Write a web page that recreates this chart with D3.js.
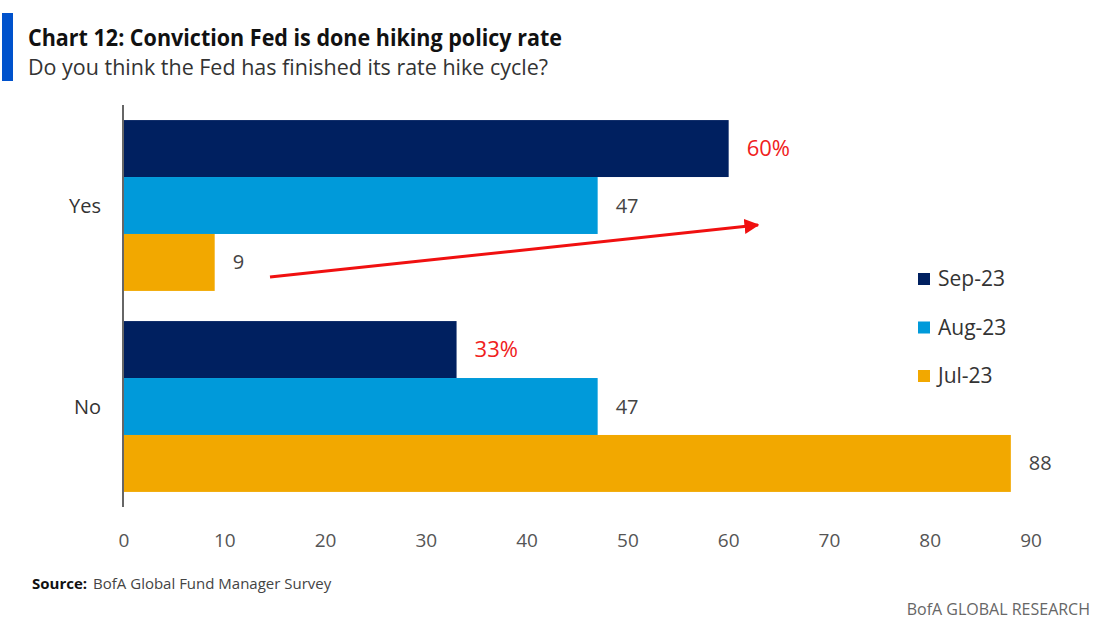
<!DOCTYPE html>
<html>
<head>
<meta charset="utf-8">
<script src="https://cdn.jsdelivr.net/npm/d3@7"></script>
<style>
  body { margin: 0; background: #fff; }
  svg { display: block; font-family: "Open Sans", "Noto Sans", sans-serif; }
</style>
</head>
<body>
<svg id="chart" width="1100" height="629"></svg>
<script>
// data
const categories = ["Yes", "No"];
const seriesNames = ["Sep-23", "Aug-23", "Jul-23"];
const sep23 = [60, 33];
const aug23 = [47, 47];
const jul23 = [9, 88];
const xTicks = [0, 10, 20, 30, 40, 50, 60, 70, 80, 90];

const colors = { "Sep-23": "#002060", "Aug-23": "#009ADA", "Jul-23": "#F2A800" };

const seriesValues = { "Sep-23": sep23, "Aug-23": aug23, "Jul-23": jul23 };
const rows = [];
categories.forEach((c, i) => {
  seriesNames.forEach(s => rows.push({ cat: c, series: s, value: seriesValues[s][i] }));
});

const svg = d3.select("#chart");

const x = d3.scaleLinear().domain([0, 90]).range([124, 1031]);
const y = d3.scaleBand().domain(categories).range([105, 507])
  .paddingInner(0.15).paddingOuter(0.075);
const ySub = d3.scaleBand().domain(seriesNames).range([0, y.bandwidth()]);

/* title block */
svg.append("rect").attr("x", 2).attr("y", 13).attr("width", 11).attr("height", 68).attr("fill", "#0052CC");
svg.append("text").attr("x", 28).attr("y", 46)
  .attr("font-size", 23).attr("font-weight", 700).attr("fill", "#111")
  .attr("textLength", 534).attr("lengthAdjust", "spacingAndGlyphs")
  .text("Chart 12: Conviction Fed is done hiking policy rate");
svg.append("text").attr("x", 28).attr("y", 75)
  .attr("font-size", 21).attr("fill", "#333")
  .attr("textLength", 520).attr("lengthAdjust", "spacingAndGlyphs")
  .text("Do you think the Fed has finished its rate hike cycle?");

/* bars */
svg.selectAll("rect.bar")
  .data(rows)
  .enter()
  .append("rect")
  .attr("class", "bar")
  .attr("x", x(0))
  .attr("y", d => y(d.cat) + ySub(d.series))
  .attr("width", d => x(d.value) - x(0))
  .attr("height", ySub.bandwidth())
  .attr("fill", d => colors[d.series]);

/* value labels */
const redLabel = d => (d.series === "Sep-23");
svg.selectAll("text.val")
  .data(rows)
  .enter()
  .append("text")
  .attr("class", "val")
  .attr("x", d => x(d.value) + 18)
  .attr("y", d => y(d.cat) + ySub(d.series) + ySub.bandwidth() / 2)
  .attr("dy", "0.35em")
  .attr("font-size", d => redLabel(d) ? 22 : 20)
  .attr("fill", d => redLabel(d) ? "#F02020" : "#444")
  .text(d => redLabel(d) ? d.value + "%" : d.value);

/* y axis */
svg.append("line")
  .attr("x1", x(0) - 1).attr("x2", x(0) - 1)
  .attr("y1", 105).attr("y2", 507)
  .attr("stroke", "#666").attr("stroke-width", 2);

svg.selectAll("text.cat")
  .data(categories)
  .enter()
  .append("text")
  .attr("class", "cat")
  .attr("x", 101)
  .attr("y", d => y(d) + y.bandwidth() / 2)
  .attr("dy", "0.35em")
  .attr("text-anchor", "end")
  .attr("font-size", 20)
  .attr("fill", "#333")
  .text(d => d);

/* x tick labels */
const xAxis = svg.append("g").attr("transform", "translate(0,540)");
xAxis.selectAll("text")
  .data(xTicks)
  .enter()
  .append("text")
  .attr("x", d => x(d))
  .attr("dy", "0.35em")
  .attr("text-anchor", "middle")
  .attr("font-size", 19)
  .attr("fill", "#555")
  .text(d => d);

/* legend */
const legend = svg.selectAll("g.legend")
  .data(seriesNames)
  .enter()
  .append("g")
  .attr("class", "legend")
  .attr("transform", (d, i) => `translate(918, ${279 + i * 48.5})`);
legend.append("rect")
  .attr("x", 0).attr("y", -6).attr("width", 12).attr("height", 12)
  .attr("fill", d => colors[d]);
legend.append("text")
  .attr("x", 20).attr("dy", "0.35em")
  .attr("font-size", 21).attr("fill", "#333")
  .text(d => d);

/* red trend arrow */
svg.append("defs").append("marker")
  .attr("id", "arrowHead")
  .attr("viewBox", "0 0 10 10")
  .attr("refX", 9).attr("refY", 5)
  .attr("markerWidth", 5).attr("markerHeight", 5)
  .attr("markerUnits", "strokeWidth")
  .attr("orient", "auto")
  .append("path").attr("d", "M0,0 L10,5 L0,10 z").attr("fill", "#F01010");
svg.append("line")
  .attr("x1", 270).attr("y1", 277)
  .attr("x2", 758).attr("y2", 225)
  .attr("stroke", "#F01010").attr("stroke-width", 3)
  .attr("marker-end", "url(#arrowHead)");

/* footer */
const src = svg.append("text").attr("x", 32).attr("y", 589).attr("font-size", 15).attr("fill", "#444");
src.append("tspan").attr("font-weight", 700).attr("fill", "#111").text("Source:");
src.append("tspan").attr("dx", 6).text("BofA Global Fund Manager Survey");

svg.append("text").attr("x", 1090).attr("y", 615)
  .attr("text-anchor", "end").attr("font-size", 16).attr("fill", "#666")
  .text("BofA GLOBAL RESEARCH");
</script>
</body>
</html>
